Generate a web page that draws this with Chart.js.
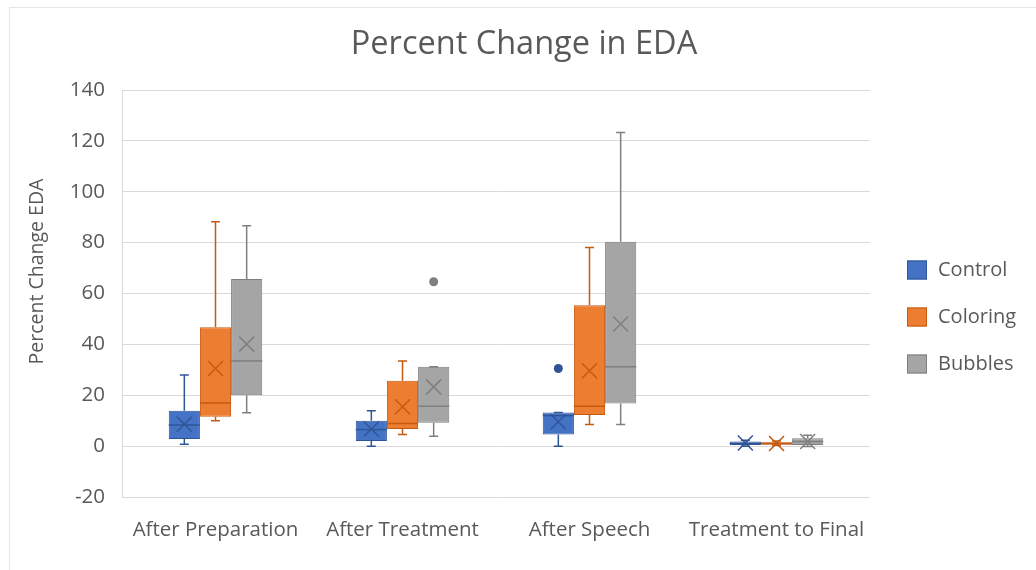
<!DOCTYPE html>
<html>
<head>
<meta charset="utf-8">
<script src="https://cdn.jsdelivr.net/npm/chart.js@4.4.1/dist/chart.umd.min.js"></script>
<style>
  html, body { margin: 0; padding: 0; background: #fff; }
  #frame { position: absolute; left: 9px; top: 7px; width: 1027px; height: 563px;
           border-left: 1px solid #e6e6e6; border-top: 1px solid #e6e6e6; box-sizing: border-box; }
  #wrap { position: absolute; left: 0; top: 0; width: 1036px; height: 570px; }
</style>
</head>
<body>
<div id="frame"></div>
<div id="wrap"><canvas id="c" width="1036" height="570"></canvas></div>
<script>
// Categories and tick range
const categories = ['After Preparation', 'After Treatment', 'After Speech', 'Treatment to Final'];
const yTicks = { min: -20, max: 140, step: 20 };

// Five-number summaries per group: [whiskerLow, q1, median, q3, whiskerHigh]
const controlStats  = [[0.7, 2.8, 8.3, 13.9, 28.0], [0.0, 2.0, 6.5, 10.0, 13.9], [0.0, 4.6, 12.0, 13.2, 13.2], [0.0, 0.4, 1.0, 1.8, 2.3]];
const coloringStats = [[10.0, 11.5, 17.0, 46.7, 88.2], [4.6, 6.7, 8.9, 25.7, 33.5], [8.5, 12.2, 15.7, 55.4, 78.1], [0.3, 0.5, 1.0, 1.5, 2.0]];
const bubblesStats  = [[13.1, 20.0, 33.5, 65.7, 86.6], [3.9, 9.2, 15.7, 31.2, 31.2], [8.5, 16.8, 31.2, 80.3, 123.3], [-0.1, 0.4, 1.8, 3.1, 4.3]];

// Means (drawn as X markers)
const controlMeans  = [8.6, 6.7, 9.6, 1.2];
const coloringMeans = [30.5, 15.5, 29.6, 1.0];
const bubblesMeans  = [40.1, 23.3, 48.0, 1.8];

// Outlier points
const controlOutliers  = [[], [], [30.5], []];
const coloringOutliers = [[], [], [], []];
const bubblesOutliers  = [[], [64.6], [], []];

const seriesNames = ['Control', 'Coloring', 'Bubbles'];
const fills   = ['#4472C4', '#ED7D31', '#A5A5A5'];
const strokes = ['#2F5597', '#C55A11', '#7F7F7F'];
const allStats = [controlStats, coloringStats, bubblesStats];
const allMeans = [controlMeans, coloringMeans, bubblesMeans];
const allOutliers = [controlOutliers, coloringOutliers, bubblesOutliers];

const chartTitle = 'Percent Change in EDA';
const yTitle = 'Percent Change EDA';
const textColor = '#595959';
const fontFamily = "'Open Sans', 'Noto Sans', sans-serif";

const datasets = seriesNames.map((name, i) => ({
  label: name,
  data: allStats[i].map(s => [s[1], s[3]]),
  backgroundColor: fills[i],
  borderColor: strokes[i],
  borderWidth: 1,
  borderSkipped: false,
  barPercentage: 1.0,
  categoryPercentage: 0.5,
  stats: allStats[i],
  means: allMeans[i],
  outliers: allOutliers[i]
}));

// Whiskers, medians, mean crosses and outlier dots drawn on top of the box bars
const boxExtras = {
  id: 'boxExtras',
  afterDatasetsDraw(chart) {
    const ctx = chart.ctx;
    const y = chart.scales.y;
    chart.data.datasets.forEach((ds, di) => {
      const meta = chart.getDatasetMeta(di);
      meta.data.forEach((bar, i) => {
        const s = ds.stats[i];
        const cx = bar.x;
        const half = bar.width / 2;
        const pLow = y.getPixelForValue(s[0]);
        const pQ1 = y.getPixelForValue(s[1]);
        const pMed = y.getPixelForValue(s[2]);
        const pQ3 = y.getPixelForValue(s[3]);
        const pHigh = y.getPixelForValue(s[4]);
        ctx.save();
        ctx.strokeStyle = ds.borderColor;
        ctx.lineWidth = 1.5;
        ctx.beginPath();
        ctx.moveTo(cx, pQ3); ctx.lineTo(cx, pHigh);
        ctx.moveTo(cx - 4.5, pHigh); ctx.lineTo(cx + 4.5, pHigh);
        ctx.moveTo(cx, pQ1); ctx.lineTo(cx, pLow);
        ctx.moveTo(cx - 4.5, pLow); ctx.lineTo(cx + 4.5, pLow);
        ctx.stroke();
        // median
        ctx.beginPath();
        ctx.moveTo(cx - half, pMed); ctx.lineTo(cx + half, pMed);
        ctx.stroke();
        // mean cross
        const pMean = y.getPixelForValue(ds.means[i]);
        const r = 7.5;
        ctx.beginPath();
        ctx.moveTo(cx - r, pMean - r); ctx.lineTo(cx + r, pMean + r);
        ctx.moveTo(cx + r, pMean - r); ctx.lineTo(cx - r, pMean + r);
        ctx.stroke();
        // outliers
        ctx.fillStyle = ds.borderColor;
        ds.outliers[i].forEach(v => {
          ctx.beginPath();
          ctx.arc(cx, y.getPixelForValue(v), 4.5, 0, Math.PI * 2);
          ctx.fill();
        });
        ctx.restore();
      });
    });
  }
};

// Chart title, vertical axis title and the series key at the right
const sideText = {
  id: 'sideText',
  afterDraw(chart) {
    const ctx = chart.ctx;
    const area = chart.chartArea;

    ctx.save();
    ctx.fillStyle = textColor;
    ctx.font = `32.5px ${fontFamily}`;
    ctx.textAlign = 'center';
    ctx.textBaseline = 'middle';
    ctx.fillText(chartTitle, chart.width / 2 + 6, 45);
    ctx.restore();

    ctx.save();
    ctx.fillStyle = textColor;
    ctx.font = `19.5px ${fontFamily}`;
    ctx.textAlign = 'center';
    ctx.textBaseline = 'middle';
    ctx.translate(37, (area.top + area.bottom) / 2 - 22);
    ctx.rotate(-Math.PI / 2);
    ctx.fillText(yTitle, 0, 0);
    ctx.restore();

    ctx.save();
    ctx.font = `20px ${fontFamily}`;
    ctx.textBaseline = 'middle';
    ctx.textAlign = 'left';
    const x0 = area.right + 37;
    const yMid = (area.top + area.bottom) / 2 + 24;
    const gap = 47;
    chart.data.datasets.forEach((ds, i) => {
      const cy = yMid + (i - 1) * gap;
      ctx.fillStyle = ds.backgroundColor;
      ctx.fillRect(x0, cy - 10, 20, 19);
      ctx.strokeStyle = ds.borderColor;
      ctx.lineWidth = 1;
      ctx.strokeRect(x0 + 0.5, cy - 9.5, 19, 18);
      ctx.fillStyle = textColor;
      ctx.fillText(ds.label, x0 + 31, cy);
    });
    ctx.restore();
  }
};

new Chart(document.getElementById('c'), {
  type: 'bar',
  data: { labels: categories, datasets },
  plugins: [boxExtras, sideText],
  options: {
    responsive: false,
    animation: false,
    layout: { padding: { left: 0, right: 166, top: 90, bottom: 0 } },
    plugins: {
      title: { display: false },
      legend: { display: false },
      tooltip: { enabled: false }
    },
    scales: {
      x: {
        grid: { display: false, drawTicks: false },
        border: { display: false },
        ticks: { color: textColor, font: { family: fontFamily, size: 20.5 }, padding: 21 },
        afterFit(scale) { scale.height = 73; }
      },
      y: {
        min: yTicks.min,
        max: yTicks.max,
        ticks: { stepSize: yTicks.step, color: textColor, font: { family: fontFamily, size: 20.5 }, padding: 17 },
        grid: { color: '#d9d9d9', drawTicks: false },
        border: { display: true, color: '#d9d9d9' },
        afterFit(scale) { scale.width = 122; }
      }
    }
  }
});
</script>
</body>
</html>
